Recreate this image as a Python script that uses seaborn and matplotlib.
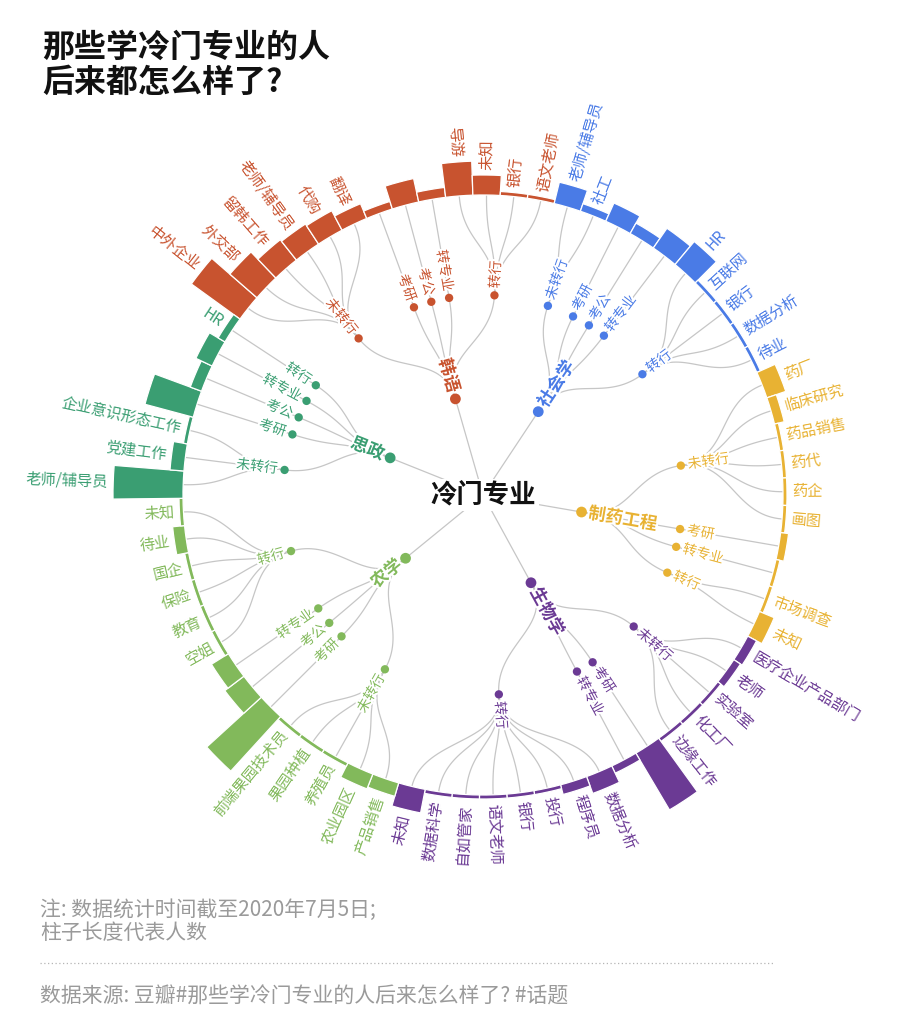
import numpy as np
import pandas as pd
import matplotlib.pyplot as plt
import matplotlib.patheffects as pe
from matplotlib.lines import Line2D
import seaborn as sns

# --- data: major -> branch (what they did next) -> job, with head counts (bar length)
majors = ['韩语', '社会学', '制药工程', '生物学', '农学', '思政']
major_colors = ['#C8532F', '#4A7BE6', '#E8B233', '#6B3A94', '#82B95B', '#3A9E72']

hanyu_branches = ['未转行', '考研', '考公', '转专业', '转行']
hanyu_jobs = [['中外企业', '外交部', '留韩工作', '老师/辅导员', '代购', '翻译'], [''], [''], [''],
              ['导游', '未知', '银行', '语文老师']]
hanyu_counts = [[30, 18, 13, 12, 11, 8], [4], [12], [5], [17, 10, 2, 2]]

shehui_branches = ['未转行', '考研', '考公', '转专业', '转行']
shehui_jobs = [['老师/辅导员', '社工'], [''], [''], [''], ['HR', '互联网', '银行', '数据分析', '待业']]
shehui_counts = [[11, 4], [10], [6], [12], [15, 2, 2, 2, 2]]

zhiyao_branches = ['未转行', '考研', '转专业', '转行']
zhiyao_jobs = [['药厂', '临床研究', '药品销售', '药代', '药企', '画图'], [''], [''], ['市场调查', '未知']]
zhiyao_counts = [[10, 5, 2, 2, 2, 2], [4], [2], [2, 8]]

shengwu_branches = ['未转行', '考研', '转专业', '转行']
shengwu_jobs = [['医疗企业产品部门', '老师', '实验室', '化工厂', '边缘工作'], [''], [''],
                ['数据分析', '程序员', '投行', '银行', '语文老师', '自如管家', '数据科学', '未知']]
shengwu_counts = [[5, 4, 2, 2, 2], [33], [4], [9, 5, 2, 2, 2, 2, 2, 12]]

nongxue_branches = ['未转行', '考研', '考公', '转专业', '转行']
nongxue_jobs = [['产品销售', '农业园区', '养殖员', '果园种植', '前端果园技术员'], [''], [''], [''],
                ['空姐', '教育', '保险', '国企', '待业', '未知']]
nongxue_counts = [[7, 8, 2, 2, 2], [37], [12], [10], [2, 2, 2, 2, 6, 2]]

sizheng_branches = ['未转行', '考研', '考公', '转专业', '转行']
sizheng_jobs = [['老师/辅导员', '党建工作', '企业意识形态工作'], [''], [''], [''], ['HR']]
sizheng_counts = [[35, 7, 2], [25], [6], [9], [4]]

tree = [(hanyu_branches, hanyu_jobs, hanyu_counts),
        (shehui_branches, shehui_jobs, shehui_counts),
        (zhiyao_branches, zhiyao_jobs, zhiyao_counts),
        (shengwu_branches, shengwu_jobs, shengwu_counts),
        (nongxue_branches, nongxue_jobs, nongxue_counts),
        (sizheng_branches, sizheng_jobs, sizheng_counts)]

# layout settings
START_DEG = 141.5
R_MAJOR, R_BRANCH, R_LEAF = 100, 200, 300
PX_PER_COUNT = 2

# 1. build leaf / branch / major tables
n_leaves = sum(len(j) for b, jobs, c in tree for j in jobs)
step = np.radians(360 / n_leaves)

leaf_rows, branch_rows, major_rows = [], [], []
i = 0
for m, (branches, jobs, counts) in enumerate(tree):
    b_thetas = []
    for b, name in enumerate(branches):
        l_thetas = []
        for job, cnt in zip(jobs[b], counts[b]):
            th = np.radians(START_DEG) - i * step
            leaf_rows.append(dict(major=majors[m], branch=b, job=job, count=cnt, theta=th))
            l_thetas.append(th)
            i += 1
        bt = np.mean(l_thetas)
        branch_rows.append(dict(major=majors[m], branch=b, name=name, theta=bt))
        b_thetas.append(bt)
    major_rows.append(dict(major=majors[m], theta=np.mean(b_thetas)))

leaves = pd.DataFrame(leaf_rows)
branches_df = pd.DataFrame(branch_rows)
majors_df = pd.DataFrame(major_rows)
leaves['r'] = R_LEAF
branches_df['r'] = R_BRANCH
majors_df['r'] = R_MAJOR
palette = dict(zip(majors, major_colors))


def radial_link(t0, r0, t1, r1, n=40):
    # d3-style linkRadial: cubic bezier with control points at mid radius
    rm = (r0 + r1) / 2
    p = np.array([[r0 * np.cos(t0), r0 * np.sin(t0)], [rm * np.cos(t0), rm * np.sin(t0)],
                  [rm * np.cos(t1), rm * np.sin(t1)], [r1 * np.cos(t1), r1 * np.sin(t1)]])
    s = np.linspace(0, 1, n)[:, None]
    xy = (1 - s) ** 3 * p[0] + 3 * (1 - s) ** 2 * s * p[1] + 3 * (1 - s) * s ** 2 * p[2] + s ** 3 * p[3]
    return np.arctan2(xy[:, 1], xy[:, 0]), np.hypot(xy[:, 0], xy[:, 1])


def text_angle(theta):
    deg = (np.degrees(theta) + 180) % 360 - 180
    if -90 <= deg <= 90:
        return deg, 'left'
    return deg - 180, 'right'


# 2. figure
sns.set_theme(style='white')
plt.rcParams['font.family'] = ['Noto Sans CJK SC', 'DejaVu Sans']

fig = plt.figure(figsize=(9, 10.27), dpi=100)
W, H = 900, 1027
cx, cy, RA = 483, 495, 400
ax = fig.add_axes([(cx - RA) / W, (H - cy - RA) / H, 2 * RA / W, 2 * RA / H], projection='polar')

link_kw = dict(color='#C6C6C6', lw=0.9, zorder=1)

# root -> major
for _, row in majors_df.iterrows():
    ax.plot([row.theta, row.theta], [0, R_MAJOR], **link_kw)
# major -> branch
for _, row in branches_df.iterrows():
    mt = majors_df.loc[majors_df.major == row.major, 'theta'].iloc[0]
    th, rr = radial_link(mt, R_MAJOR, row.theta, R_BRANCH)
    ax.plot(th, rr, **link_kw)
# branch -> leaf
for _, row in leaves.iterrows():
    bt = branches_df.loc[(branches_df.major == row.major) & (branches_df.branch == row.branch), 'theta'].iloc[0]
    th, rr = radial_link(bt, R_BRANCH, row.theta, R_LEAF)
    ax.plot(th, rr, **link_kw)

# bars
ax.bar(leaves.theta, leaves['count'] * PX_PER_COUNT, width=step, bottom=R_LEAF,
       color=[palette[m] for m in leaves.major], edgecolor='white', linewidth=0.9, zorder=3)

# node dots
sns.scatterplot(data=branches_df, x='theta', y='r', hue='major', palette=palette, s=36,
                edgecolor='none', legend=False, ax=ax, zorder=4)
sns.scatterplot(data=majors_df, x='theta', y='r', hue='major', palette=palette, s=60,
                edgecolor='none', legend=False, ax=ax, zorder=4)

halo = [pe.withStroke(linewidth=3, foreground='white')]

# leaf labels
for _, row in leaves.iterrows():
    if not row.job:
        continue
    rot, ha = text_angle(row.theta)
    ax.text(row.theta, R_LEAF + row['count'] * PX_PER_COUNT + 5, row.job, rotation=rot, ha=ha,
            va='center', rotation_mode='anchor', fontsize=11, color=palette[row.major], zorder=5)

# branch labels
for _, row in branches_df.iterrows():
    rot, ha = text_angle(row.theta)
    ax.text(row.theta, R_BRANCH + 7, row['name'], rotation=rot, ha=ha, va='center',
            rotation_mode='anchor', fontsize=10, color=palette[row.major], zorder=5, path_effects=halo)

# major labels
for _, row in majors_df.iterrows():
    rot, ha = text_angle(row.theta)
    ax.text(row.theta, R_MAJOR + 7, row.major, rotation=rot, ha=ha, va='center',
            rotation_mode='anchor', fontsize=12.5, fontweight='bold', color=palette[row.major],
            zorder=5, path_effects=halo)

ax.text(0, 0, '冷门专业', ha='center', va='center', fontsize=19, fontweight='bold', color='#111111',
        zorder=6, bbox=dict(facecolor='white', edgecolor='none', pad=2))

ax.set_ylim(0, RA)
ax.set_axis_off()

# 3. titles and notes
fig.text(42 / W, 1 - 48 / H, '那些学冷门专业的人', fontsize=23, fontweight='bold', va='center', color='#111111')
fig.text(42 / W, 1 - 83 / H, '后来都怎么样了?', fontsize=23, fontweight='bold', va='center', color='#111111')

note_kw = dict(fontsize=15, color='#9A9A9A', va='center', fontweight='light')
fig.text(40 / W, 1 - 910 / H, '注: 数据统计时间截至2020年7月5日;', **note_kw)
fig.text(40 / W, 1 - 933 / H, '柱子长度代表人数', **note_kw)
fig.add_artist(Line2D([40 / W, 775 / W], [1 - 963 / H, 1 - 963 / H], color='#B5B5B5', lw=0.9,
                      linestyle=(0, (1, 2)), transform=fig.transFigure))
fig.text(40 / W, 1 - 997 / H, '数据来源: 豆瓣#那些学冷门专业的人后来怎么样了? #话题', **note_kw)

fig.savefig('out.png', dpi=100, facecolor='white')
